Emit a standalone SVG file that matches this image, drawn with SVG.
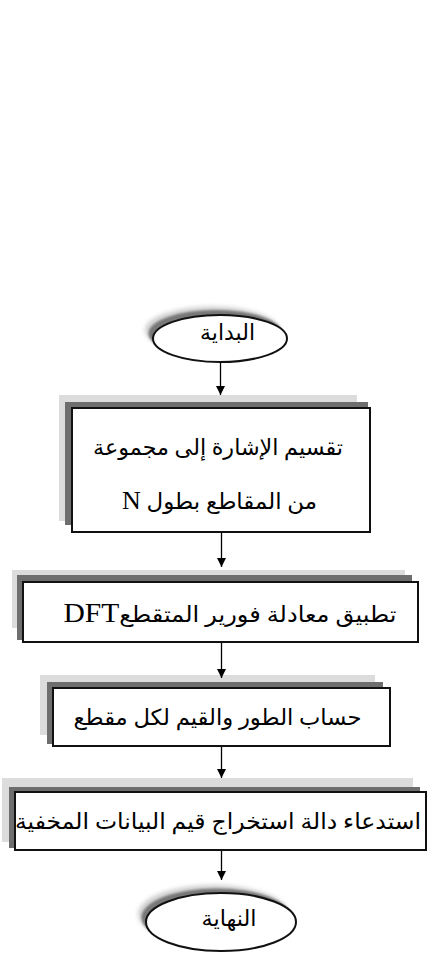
<svg xmlns="http://www.w3.org/2000/svg" width="428" height="954" viewBox="0 0 428 954">
<defs>
<style>
.bg{fill:#ffffff}
.lt{fill:#dcdcdc}
.dk{fill:#6e6e6e}
.box{fill:#ffffff;stroke:#111111;stroke-width:2}
.ell{fill:#ffffff;stroke:#111111;stroke-width:2}
.lbl{font-family:"Liberation Serif","DejaVu Sans",serif;font-size:22px;fill:#000000;text-anchor:middle;direction:rtl}
.lat{font-family:"Liberation Serif",serif}
.con{stroke:#000000;stroke-width:1.3;fill:none;marker-end:url(#ah)}
</style>
<filter id="b2" x="-20%" y="-40%" width="140%" height="180%"><feGaussianBlur stdDeviation="2.2"/></filter>
<filter id="b1" x="-20%" y="-40%" width="140%" height="180%"><feGaussianBlur stdDeviation="1"/></filter>
<marker id="ah" markerWidth="10" markerHeight="10" refX="9" refY="5" orient="auto" markerUnits="userSpaceOnUse">
<path d="M0,0.5 L9,5 L0,9.5 Z" fill="#000000"/>
</marker>
</defs>
<rect class="bg" x="0" y="0" width="428" height="954"/>

<g id="start">
<ellipse cx="212" cy="330" rx="67" ry="23.5" fill="#cfcfcf" filter="url(#b2)"/>
<ellipse cx="215.5" cy="333.5" rx="67" ry="23.5" fill="#777777" filter="url(#b1)"/>
<ellipse class="ell" cx="220" cy="338.5" rx="67" ry="23.5"/>
<text class="lbl" x="227.5" y="340" textLength="55" lengthAdjust="spacingAndGlyphs">البداية</text>
</g>

<g id="split">
<rect class="lt" x="59" y="395" width="298" height="126"/>
<rect class="dk" x="65" y="402" width="303" height="123"/>
<rect class="box" x="72" y="408" width="298" height="124"/>
<text class="lbl" x="218" y="455" textLength="250" lengthAdjust="spacingAndGlyphs">تقسيم الإشارة إلى مجموعة</text>
<text class="lbl" x="219.5" y="509" textLength="195" lengthAdjust="spacingAndGlyphs">من المقاطع بطول <tspan class="lat" font-size="25">N</tspan></text>
</g>

<g id="dft">
<rect class="lt" x="12" y="570" width="393" height="58"/>
<rect class="dk" x="17" y="575" width="395" height="65"/>
<rect class="box" x="23" y="582" width="395" height="60"/>
<text class="lbl" x="230" y="622" textLength="333" lengthAdjust="spacingAndGlyphs">تطبيق معادلة فورير المتقطع<tspan class="lat" font-size="27">DFT</tspan></text>
</g>

<g id="phase">
<rect class="lt" x="40" y="675" width="335" height="60"/>
<rect class="dk" x="47" y="682" width="336" height="62"/>
<rect class="box" x="53" y="688" width="337" height="58"/>
<text class="lbl" x="217.5" y="725" textLength="288" lengthAdjust="spacingAndGlyphs">حساب الطور والقيم لكل مقطع</text>
</g>

<g id="extract">
<rect class="lt" x="2" y="778" width="411" height="64"/>
<rect class="dk" x="9" y="787" width="411" height="61"/>
<rect class="box" x="15" y="792" width="411" height="58"/>
<text class="lbl" x="218" y="829" textLength="406" lengthAdjust="spacingAndGlyphs">استدعاء دالة استخراج قيم البيانات المخفية</text>
</g>

<g id="end">
<ellipse cx="213" cy="914" rx="75" ry="29" fill="#cfcfcf" filter="url(#b2)"/>
<ellipse cx="216.5" cy="917.5" rx="75" ry="29" fill="#777777" filter="url(#b1)"/>
<ellipse class="ell" cx="221" cy="922" rx="75" ry="29"/>
<text class="lbl" x="229" y="926" textLength="55" lengthAdjust="spacingAndGlyphs">النهاية</text>
</g>

<g id="connectors">
<line class="con" x1="220.5" y1="362" x2="220.5" y2="395"/>
<line class="con" x1="221.5" y1="532" x2="221.5" y2="567"/>
<line class="con" x1="221.5" y1="643" x2="221.5" y2="678"/>
<line class="con" x1="221.5" y1="747" x2="221.5" y2="778"/>
<line class="con" x1="221.5" y1="851" x2="221.5" y2="880"/>
</g>
</svg>
